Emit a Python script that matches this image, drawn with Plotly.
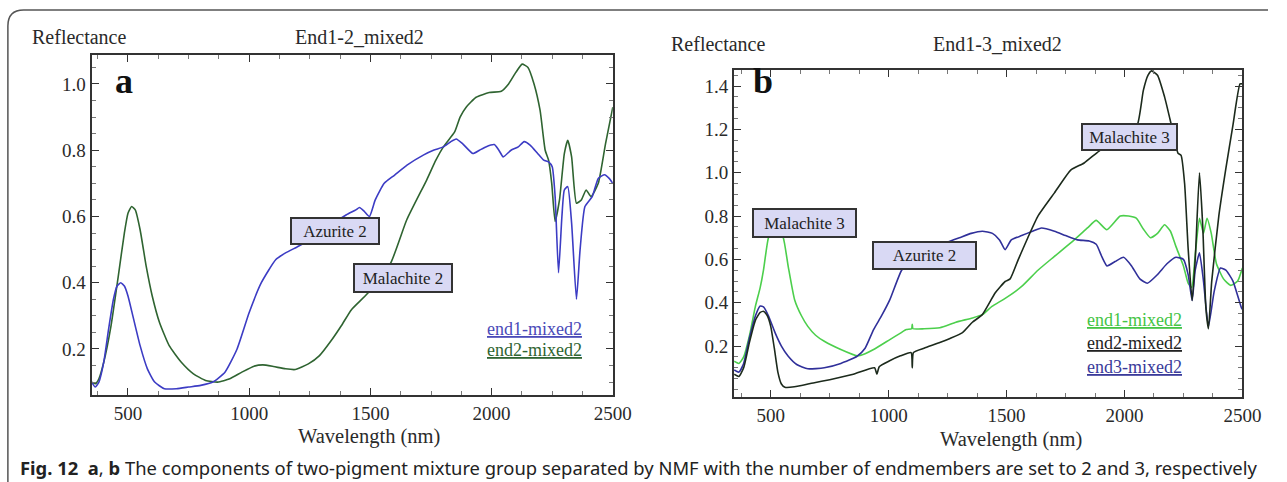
import plotly.graph_objects as go

W, H = 1287, 482

# ---------------- data ----------------
# Panel a: End1-2_mixed2
a_end1_nm = [350, 365, 380, 400, 420, 440, 455, 470, 485, 500, 520, 550, 580, 610, 650, 700, 750, 800, 850,
             900, 950, 1000, 1050, 1110, 1150, 1203, 1250, 1300, 1350, 1401, 1440, 1455, 1475, 1496, 1520, 1557,
             1600, 1651, 1720, 1760, 1801, 1830, 1854, 1880, 1923, 1950, 1976, 2011, 2030, 2048, 2080, 2110,
             2134, 2160, 2190, 2215, 2235, 2250, 2262, 2276, 2290, 2300, 2314, 2330, 2350, 2365, 2385, 2415,
             2440, 2466, 2485, 2500]
a_end1_r = [0.10, 0.085, 0.10, 0.16, 0.26, 0.35, 0.39, 0.40, 0.39, 0.36, 0.30, 0.21, 0.14, 0.10, 0.08, 0.08,
            0.085, 0.09, 0.10, 0.13, 0.20, 0.31, 0.40, 0.47, 0.49, 0.51, 0.53, 0.55, 0.58, 0.605, 0.62, 0.627,
            0.615, 0.60, 0.65, 0.70, 0.725, 0.755, 0.786, 0.80, 0.81, 0.825, 0.834, 0.82, 0.79, 0.80, 0.81,
            0.817, 0.80, 0.78, 0.80, 0.81, 0.826, 0.815, 0.79, 0.77, 0.765, 0.75, 0.66, 0.43, 0.60, 0.68, 0.69,
            0.58, 0.35, 0.50, 0.63, 0.66, 0.715, 0.726, 0.715, 0.70]

a_end2_nm = [350, 365, 380, 400, 430, 460, 485, 500, 515, 530, 550, 575, 600, 630, 670, 720, 770, 820, 870,
             920, 970, 1020, 1056, 1100, 1150, 1190, 1244, 1290, 1340, 1380, 1421, 1489, 1584, 1650, 1732, 1770,
             1801, 1848, 1870, 1895, 1936, 1990, 2040, 2070, 2100, 2126, 2150, 2175, 2200, 2221, 2235, 2248,
             2262, 2280, 2300, 2314, 2330, 2350, 2370, 2390, 2410, 2440, 2470, 2500]
a_end2_r = [0.10, 0.095, 0.11, 0.16, 0.27, 0.42, 0.55, 0.61, 0.63, 0.62, 0.56, 0.45, 0.36, 0.28, 0.21, 0.16,
            0.125, 0.105, 0.10, 0.11, 0.13, 0.148, 0.152, 0.147, 0.14, 0.138, 0.155, 0.18, 0.227, 0.27, 0.318,
            0.368, 0.46, 0.59, 0.71, 0.77, 0.81, 0.856, 0.90, 0.93, 0.96, 0.974, 0.978, 1.00, 1.035, 1.06,
            1.05, 1.00, 0.92, 0.80, 0.77, 0.70, 0.585, 0.65, 0.79, 0.83, 0.78, 0.64, 0.65, 0.68, 0.66, 0.70,
            0.82, 0.93]

# Panel b: End1-3_mixed2
b_end1_nm = [345, 365, 385, 410, 434, 455, 469, 490, 510, 530, 553, 574, 601, 630, 657, 690, 727, 797, 866,
             900, 936, 1005, 1050, 1075, 1097, 1100, 1103, 1150, 1217, 1285, 1355, 1397, 1438, 1494, 1564, 1633,
             1703, 1787, 1843, 1880, 1925, 1982, 2017, 2050, 2080, 2110, 2140, 2170, 2195, 2218, 2250, 2270,
             2285, 2300, 2318, 2335, 2350, 2368, 2390, 2420, 2450, 2480, 2500]
b_end1_r = [0.13, 0.12, 0.15, 0.25, 0.38, 0.47, 0.55, 0.70, 0.74, 0.74, 0.70, 0.567, 0.414, 0.34, 0.291, 0.25,
            0.222, 0.184, 0.155, 0.165, 0.184, 0.23, 0.26, 0.276, 0.28, 0.30, 0.28, 0.28, 0.285, 0.31, 0.33,
            0.345, 0.383, 0.42, 0.475, 0.55, 0.614, 0.69, 0.745, 0.78, 0.737, 0.80, 0.80, 0.79, 0.74, 0.70,
            0.72, 0.76, 0.73, 0.66, 0.57, 0.49, 0.47, 0.62, 0.79, 0.72, 0.79, 0.72, 0.58, 0.51, 0.48, 0.50, 0.56]

b_end2_nm = [345, 365, 385, 410, 435, 455, 470, 485, 500, 515, 530, 545, 560, 600, 680, 750, 850, 940, 950,
             960, 1000, 1050, 1095, 1100, 1105, 1150, 1214, 1260, 1313, 1355, 1397, 1452, 1494, 1515, 1549,
             1590, 1633, 1703, 1773, 1829, 1892, 1950, 2000, 2054, 2080, 2100, 2115, 2140, 2170, 2201, 2227,
             2240, 2255, 2270, 2287, 2300, 2318, 2332, 2345, 2356, 2370, 2400, 2430, 2460, 2490, 2500]
b_end2_r = [0.07, 0.06, 0.10, 0.22, 0.32, 0.355, 0.36, 0.34, 0.29, 0.19, 0.08, 0.025, 0.01, 0.012, 0.03, 0.045,
            0.07, 0.10, 0.07, 0.105, 0.13, 0.155, 0.17, 0.10, 0.17, 0.19, 0.215, 0.235, 0.262, 0.31, 0.345,
            0.446, 0.498, 0.51, 0.598, 0.70, 0.80, 0.907, 1.013, 1.045, 1.10, 1.14, 1.17, 1.22, 1.38, 1.45,
            1.47, 1.45, 1.35, 1.21, 1.09, 1.08, 0.95, 0.65, 0.41, 0.60, 1.00, 0.75, 0.38, 0.28, 0.50, 0.80,
            1.02, 1.22, 1.41, 1.41]

b_end3_nm = [345, 365, 385, 410, 435, 455, 470, 490, 518, 545, 574, 610, 657, 727, 797, 866, 900, 936, 970,
             1005, 1055, 1100, 1150, 1200, 1257, 1300, 1350, 1397, 1440, 1470, 1494, 1520, 1564, 1610, 1648,
             1703, 1750, 1800, 1850, 1880, 1905, 1926, 1960, 1996, 2030, 2065, 2097, 2140, 2180, 2218, 2250,
             2270, 2287, 2300, 2318, 2335, 2356, 2380, 2407, 2430, 2460, 2495, 2500]
b_end3_r = [0.09, 0.08, 0.12, 0.24, 0.34, 0.385, 0.38, 0.34, 0.262, 0.20, 0.153, 0.115, 0.095, 0.10, 0.12,
            0.153, 0.19, 0.276, 0.34, 0.414, 0.55, 0.60, 0.63, 0.66, 0.683, 0.70, 0.72, 0.73, 0.72, 0.69, 0.645,
            0.69, 0.71, 0.73, 0.745, 0.73, 0.71, 0.69, 0.685, 0.67, 0.61, 0.57, 0.59, 0.61, 0.57, 0.51, 0.49,
            0.53, 0.58, 0.61, 0.60, 0.53, 0.41, 0.55, 0.63, 0.50, 0.29, 0.45, 0.56, 0.55, 0.50, 0.38, 0.37]

x_tick_vals = [500, 1000, 1500, 2000, 2500]
x_tick_text = ["500", "1000", "1500", "2000", "2500"]
a_y_tick_vals = [0.2, 0.4, 0.6, 0.8, 1.0]
a_y_tick_text = ["0.2", "0.4", "0.6", "0.8", "1.0"]
b_y_tick_vals = [0.2, 0.4, 0.6, 0.8, 1.0, 1.2, 1.4]
b_y_tick_text = ["0.2", "0.4", "0.6", "0.8", "1.0", "1.2", "1.4"]

# ---------------- styling ----------------
SERIF = "Liberation Serif"
SANS = "Noto Sans"
A_BLUE = "#3c3cc4"
A_GREEN = "#2f6431"
B_GREEN = "#4ccf4c"
B_BLACK = "#1c2a1c"
B_BLUE = "#30309a"
AXC = "#333333"


def px(x):
    return x / W


def py(y):
    return 1 - y / H


fig = go.Figure()

def add_line(xs, ys, color, xa, ya, name):
    fig.add_trace(go.Scatter(x=xs, y=ys, mode="lines", name=name,
                             line=dict(color=color, width=1.6, shape="spline", smoothing=0.5),
                             xaxis=xa, yaxis=ya, showlegend=False, hoverinfo="skip"))

add_line(a_end2_nm, a_end2_r, A_GREEN, "x", "y", "end2-mixed2")
add_line(a_end1_nm, a_end1_r, A_BLUE, "x", "y", "end1-mixed2")
add_line(b_end1_nm, b_end1_r, B_GREEN, "x2", "y2", "end1-mixed2")
add_line(b_end3_nm, b_end3_r, B_BLUE, "x2", "y2", "end3-mixed2")
add_line(b_end2_nm, b_end2_r, B_BLACK, "x2", "y2", "end2-mixed2")

tickfont = dict(family=SERIF, size=19, color="#2a2a2a")

def xaxis(domain, rng, anchor):
    return dict(domain=domain, range=rng, anchor=anchor, showgrid=False, zeroline=False,
                showline=True, linecolor=AXC, linewidth=2, mirror="allticks",
                ticks="inside", ticklen=7, tickwidth=1, tickcolor=AXC,
                tickvals=x_tick_vals, ticktext=x_tick_text, tickfont=tickfont,
                minor=dict(ticks="inside", dtick=125, tick0=0, ticklen=4, tickcolor="#777777", tickwidth=1))

def yaxis(domain, rng, anchor, tv, tt):
    return dict(domain=domain, range=rng, anchor=anchor, showgrid=False, zeroline=False,
                showline=True, linecolor=AXC, linewidth=2, mirror="allticks",
                ticks="inside", ticklen=7, tickwidth=1, tickcolor=AXC,
                tickvals=tv, ticktext=tt, tickfont=tickfont,
                minor=dict(ticks="inside", dtick=0.05, tick0=0, ticklen=4, tickcolor="#777777", tickwidth=1))

fig.update_layout(
    width=W, height=H, margin=dict(l=0, r=0, t=0, b=0),
    paper_bgcolor="white", plot_bgcolor="white",
    xaxis=xaxis([px(93), px(622)], [350, 2500], "y"),
    yaxis=yaxis([py(395), py(55)], [0.061, 1.0875], "x", a_y_tick_vals, a_y_tick_text),
    xaxis2=xaxis([px(745), px(1261)], [344, 2500], "y2"),
    yaxis2=yaxis([py(397), py(70)], [-0.035, 1.474], "x2", b_y_tick_vals, b_y_tick_text),
)

ann = []

def text(x, y, s, size=20, color="#2a2a2a", family=SERIF, xanchor="center"):
    ann.append(dict(x=px(x), y=py(y), xref="paper", yref="paper", text=s, showarrow=False,
                    xanchor=xanchor, yanchor="middle", font=dict(family=family, size=size, color=color)))

text(30, 37, "Reflectance", xanchor="left")
text(365, 37, "End1-2_mixed2")
text(679, 44, "Reflectance", xanchor="left")
text(1012, 44, "End1-3_mixed2")
text(375, 436, "Wavelength (nm)", size=20.5)
text(1026, 439, "Wavelength (nm)", size=20.5)
text(126, 81, "<b>a</b>", size=36, color="#111111")
text(774, 81, "<b>b</b>", size=36, color="#111111")

# legends
text(543, 329, "<u>end1-mixed2</u>", size=18, color="#4a4ab8")
text(543, 350, "<u>end2-mixed2</u>", size=18, color=A_GREEN)
text(1152, 320, "<u>end1-mixed2</u>", size=18, color="#44c444")
text(1152, 343, "<u>end2-mixed2</u>", size=18, color="#222222")
text(1152, 367, "<u>end3-mixed2</u>", size=18, color="#3a3a9a")

# label boxes (data coordinates)
def box(x, y, s, w, h, xr, yr):
    ann.append(dict(x=x, y=y, xref=xr, yref=yr, text=s, showarrow=False,
                    xanchor="center", yanchor="middle", width=w, height=h,
                    bgcolor="#d9d9f4", bordercolor="#333333", borderwidth=2, borderpad=0,
                    font=dict(family=SERIF, size=17, color="#222222")))

box(1354, 0.556, "Azurite 2", 86, 24, "x", "y")
box(1634, 0.414, "Malachite 2", 96, 26, "x", "y")
box(645, 0.769, "Malachite 3", 101, 26, "x2", "y2")
box(1151, 0.617, "Azurite 2", 101, 25, "x2", "y2")
box(2022, 1.165, "Malachite 3", 93, 24, "x2", "y2")

# caption
ann.append(dict(x=px(18), y=py(467), xref="paper", yref="paper", showarrow=False,
                xanchor="left", yanchor="middle",
                text="<b>Fig. 12</b>\u00a0\u00a0<b>a</b>, <b>b</b> The components of two-pigment mixture group "
                     "separated by NMF with the number of endmembers are set to 2 and 3, respectively",
                font=dict(family=SANS, size=18.4, color="#222222")))

fig.update_layout(annotations=ann)

# frame around figure (rounded top-left corner)
x0 = px(8)
yt = py(10)
fig.add_shape(type="path", xref="paper", yref="paper",
              path=f"M {x0},0 L {x0},{py(26)} Q {x0},{yt} {px(24)},{yt} L 1,{yt}",
              line=dict(color="#555555", width=1.5))

fig.write_html("out.html")
